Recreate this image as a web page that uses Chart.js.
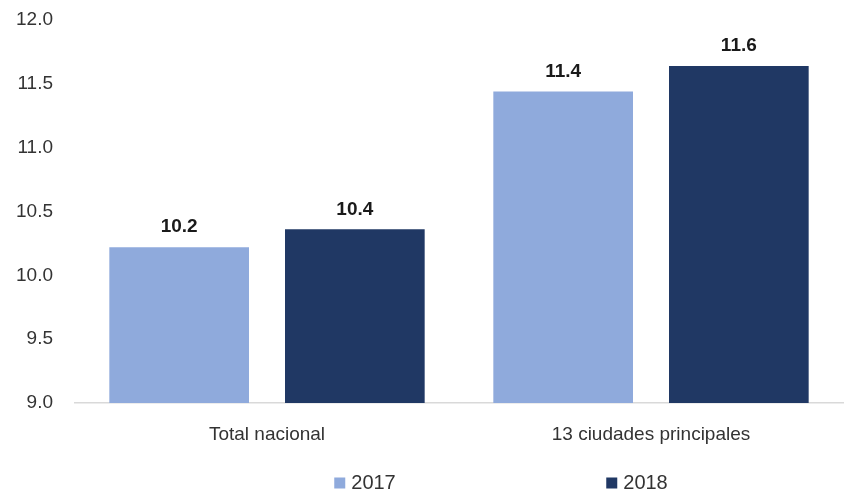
<!DOCTYPE html>
<html>
<head>
<meta charset="utf-8">
<script src="https://cdn.jsdelivr.net/npm/chart.js@4/dist/chart.umd.min.js"></script>
<style>
  html, body { margin: 0; padding: 0; background: #fff; }
  #wrap { width: 846px; height: 495px; }
</style>
</head>
<body>
<div id="wrap"><canvas id="myBarChart" width="846" height="495"></canvas></div>
<script>
const categories = ["Total nacional", "13 ciudades principales"];
const seriesNames = ["2017", "2018"];
const values2017 = [10.22, 11.44];
const values2018 = [10.36, 11.64];
const yTicks = [9.0, 9.5, 10.0, 10.5, 11.0, 11.5, 12.0];

const colors = ["#8FAADC", "#203864"];
const textColor = "#333333";
const fontFamily = "'Liberation Sans', Arial, sans-serif";

// value labels above each bar
const barLabels = {
    id: "barLabels",
    afterDatasetsDraw(chart) {
        const ctx = chart.ctx;
        ctx.save();
        ctx.font = "bold 19px " + fontFamily;
        ctx.fillStyle = "#1a1a1a";
        ctx.textAlign = "center";
        ctx.textBaseline = "middle";
        chart.data.datasets.forEach(function (ds, i) {
            chart.getDatasetMeta(i).data.forEach(function (bar, j) {
                ctx.fillText(ds.data[j].toFixed(1), bar.x, bar.y - 20);
            });
        });
        ctx.restore();
    }
};

// legend spread out under the chart
const spreadLegend = {
    id: "spreadLegend",
    afterDraw(chart) {
        const ctx = chart.ctx;
        const centers = [365, 637];
        ctx.save();
        ctx.font = "20px " + fontFamily;
        ctx.textBaseline = "middle";
        ctx.textAlign = "left";
        chart.data.datasets.forEach(function (ds, i) {
            const w = ctx.measureText(ds.label).width;
            const x0 = centers[i] - (11 + 6 + w) / 2;
            const y = 483;
            ctx.fillStyle = ds.backgroundColor;
            ctx.fillRect(x0, y - 5.5, 11, 11);
            ctx.fillStyle = textColor;
            ctx.fillText(ds.label, x0 + 17, y);
        });
        ctx.restore();
    }
};

const ctx = document.getElementById("myBarChart");
const myBarChart = new Chart(ctx, {
    type: "bar",
    data: {
        labels: categories,
        datasets: [{
            label: seriesNames[0],
            data: values2017,
            backgroundColor: colors[0],
            categoryPercentage: 0.915,
            barPercentage: 0.795
        }, {
            label: seriesNames[1],
            data: values2018,
            backgroundColor: colors[1],
            categoryPercentage: 0.915,
            barPercentage: 0.795
        }]
    },
    options: {
        responsive: false,
        animation: false,
        layout: { padding: { top: 20, right: 3, bottom: 0, left: 0 } },
        plugins: {
            legend: { display: false },
            tooltip: { enabled: false }
        },
        scales: {
            x: {
                grid: { display: false, drawTicks: false },
                border: { display: true, color: "#d9d9d9", width: 1.5 },
                ticks: {
                    color: textColor,
                    padding: 20,
                    font: { size: 19, family: fontFamily }
                },
                afterFit: function (scale) { scale.height = 92; }
            },
            y: {
                min: 9,
                max: 12,
                afterBuildTicks: function (scale) {
                    scale.ticks = yTicks.map(function (v) { return { value: v }; });
                },
                grid: { display: false, drawTicks: false },
                border: { display: false },
                ticks: {
                    color: textColor,
                    padding: 22,
                    font: { size: 19, family: fontFamily },
                    callback: function (v) { return Number(v).toFixed(1); }
                },
                afterFit: function (scale) {
                    scale.width = 75;
                    scale.paddingTop = 11;
                    scale.paddingBottom = 11;
                }
            }
        }
    },
    plugins: [barLabels, spreadLegend]
});
</script>
</body>
</html>
